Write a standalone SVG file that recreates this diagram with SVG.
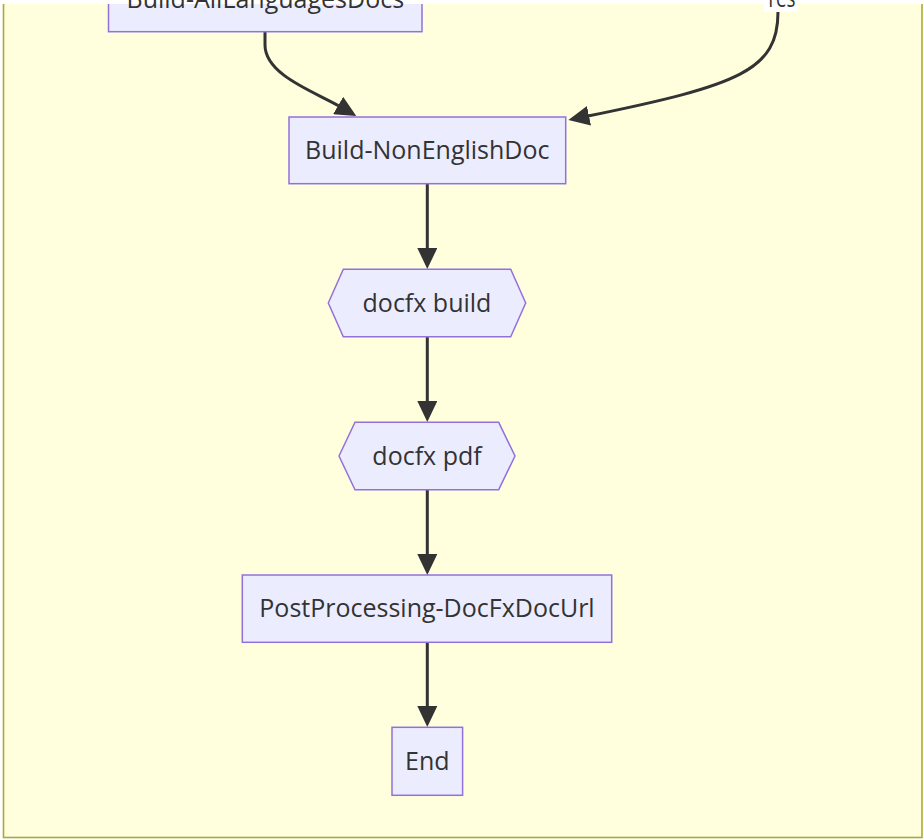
<svg xmlns="http://www.w3.org/2000/svg" width="924" height="840" viewBox="0 0 924 840">
<style>
.node rect,.node polygon{fill:#ECECFF;stroke:#9370DB;stroke-width:1.5}
.lbl{font-family:"Open Sans","Liberation Sans",sans-serif;font-size:25px;fill:#333;text-anchor:middle}
.edge{fill:none;stroke:#333;stroke-width:3}
</style>
<defs>
<clipPath id="below"><rect x="0" y="4" width="924" height="836"/></clipPath>
<marker id="arr" markerUnits="userSpaceOnUse" markerWidth="21" markerHeight="20" viewBox="0 0 21 20" refX="1" refY="10" orient="auto"><path d="M0,0 L21,10 L0,20 z" fill="#333"/></marker>
</defs>
<rect width="924" height="840" fill="#fff"/>
<g id="cluster">
<rect x="3.5" y="-20" width="918.5" height="857.5" fill="#ffffde" stroke="#aaaa33" stroke-width="1.6" clip-path="url(#below)"/>
</g>
<g id="connectors">
<path class="edge" d="M265,31.7 L265,45 C265,75 315,92 339,106" marker-end="url(#arr)"/>
<path class="edge" d="M778,12 C778,70 740,85 588,116" marker-end="url(#arr)"/>
<path class="edge" d="M427.3,184 L427.3,249" marker-end="url(#arr)"/>
<path class="edge" d="M427.3,336.7 L427.3,402" marker-end="url(#arr)"/>
<path class="edge" d="M427.3,489.7 L427.3,555" marker-end="url(#arr)"/>
<path class="edge" d="M427.3,642.3 L427.3,707" marker-end="url(#arr)"/>
</g>
<g id="label-yes">
<rect x="764" y="-25" width="33" height="37" fill="#fff"/>
<text class="lbl" x="780.5" y="7" textLength="30" lengthAdjust="spacingAndGlyphs">Yes</text>
</g>
<g id="node-build-all" class="node">
<rect x="108.5" y="-35" width="313.5" height="66.7" clip-path="url(#below)"/>
<text class="lbl" x="265.3" y="7.5">Build-AllLanguagesDocs</text>
</g>
<g id="node-build-nonenglish" class="node">
<rect x="289" y="117" width="276.7" height="66.7"/>
<text class="lbl" x="427.3" y="159.3">Build-NonEnglishDoc</text>
</g>
<g id="node-docfx-build" class="node">
<polygon points="328.3,303 343.3,269.3 510.7,269.3 525.7,303 510.7,336.7 343.3,336.7"/>
<text class="lbl" x="427" y="311.7">docfx build</text>
</g>
<g id="node-docfx-pdf" class="node">
<polygon points="339,456 355,422.3 498.7,422.3 515,456 498.7,489.7 355,489.7"/>
<text class="lbl" x="427" y="465">docfx pdf</text>
</g>
<g id="node-postprocessing" class="node">
<rect x="242.3" y="575" width="369.4" height="67.3"/>
<text class="lbl" x="427" y="616.7">PostProcessing-DocFxDocUrl</text>
</g>
<g id="node-end" class="node">
<rect x="392" y="727.3" width="70.6" height="68"/>
<text class="lbl" x="427.3" y="770">End</text>
</g>
</svg>
